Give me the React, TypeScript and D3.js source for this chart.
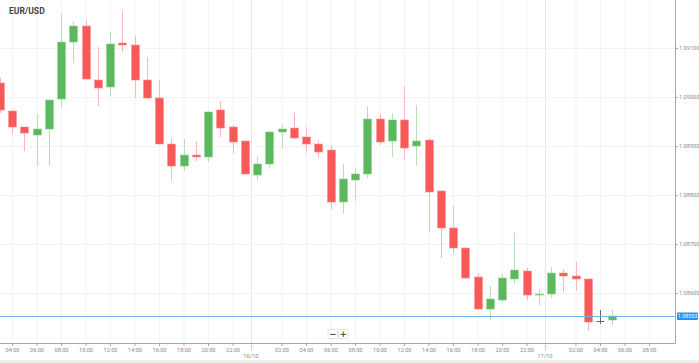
import React, { useRef, useEffect } from 'react';
import * as d3 from 'd3';

// hourly candles, 15/10 03:00 -> 17/10 05:00
const startTime = new Date(2019, 9, 15, 3);
const times = d3.timeHour.range(startTime, new Date(2019, 9, 17, 6));

const open = [
  1.090286, 1.089714, 1.089388, 1.089224, 1.089347, 1.089959, 1.091122, 1.091449, 1.090347, 1.090204,
  1.091102, 1.091061, 1.090347, 1.089980, 1.089041, 1.088592, 1.088816, 1.088776, 1.089735, 1.089388,
  1.089102, 1.088408, 1.088633, 1.089286, 1.089367, 1.089184, 1.089041, 1.088918, 1.087857, 1.088306,
  1.088429, 1.089551, 1.089102, 1.089531, 1.089000, 1.089122, 1.088082, 1.087327, 1.086918, 1.086327,
  1.085673, 1.085857, 1.086286, 1.086449, 1.085959, 1.085980, 1.086408, 1.086347, 1.086286, 1.085429,
  1.085449,
];
const high = [
  1.090388, 1.089735, 1.089388, 1.089653, 1.089939, 1.091694, 1.091531, 1.091571, 1.091020, 1.091327,
  1.091755, 1.091245, 1.090816, 1.090347, 1.089143, 1.089143, 1.089102, 1.089714, 1.089918, 1.089429,
  1.089102, 1.088776, 1.089306, 1.089429, 1.089673, 1.089388, 1.089122, 1.089020, 1.088633, 1.088551,
  1.089816, 1.089653, 1.089673, 1.090224, 1.089837, 1.089163, 1.088102, 1.087776, 1.086918, 1.086408,
  1.086143, 1.086388, 1.087224, 1.086510, 1.086082, 1.086531, 1.086490, 1.086633, 1.086286, 1.085653,
  1.085653,
];
const low = [
  1.089673, 1.089245, 1.088898, 1.088592, 1.088592, 1.089796, 1.090694, 1.090367, 1.089816, 1.090020,
  1.090918, 1.089980, 1.089959, 1.089041, 1.088286, 1.088490, 1.088694, 1.088673, 1.089184, 1.088857,
  1.088429, 1.088306, 1.088531, 1.088939, 1.089143, 1.088857, 1.088755, 1.087714, 1.087612, 1.087878,
  1.088347, 1.089020, 1.088776, 1.088735, 1.088592, 1.087245, 1.086714, 1.086816, 1.086286, 1.085653,
  1.085449, 1.085816, 1.086184, 1.085857, 1.085755, 1.085898, 1.086020, 1.086041, 1.085224, 1.085367,
  1.085347,
];
const close = [
  1.089735, 1.089388, 1.089265, 1.089347, 1.089939, 1.091122, 1.091449, 1.090367, 1.090184, 1.091082,
  1.091061, 1.090347, 1.089980, 1.089041, 1.088592, 1.088816, 1.088776, 1.089694, 1.089367, 1.089082,
  1.088429, 1.088633, 1.089286, 1.089347, 1.089163, 1.089041, 1.088878, 1.087857, 1.088327, 1.088429,
  1.089551, 1.089082, 1.089531, 1.088959, 1.089102, 1.088061, 1.087327, 1.086918, 1.086306, 1.085673,
  1.085878, 1.086306, 1.086469, 1.085959, 1.085980, 1.086408, 1.086347, 1.086286, 1.085408, 1.085429,
  1.085531,
];
// the running candle is drawn neutral
const currentIndex = 49;
const lastPrice = 1.08553;
const priceTicks = [1.086, 1.087, 1.088, 1.089, 1.09, 1.091];
const dayLabels = ['16/10', '17/10'];
const title = 'EUR/USD';

const W = 699;
const H = 363;
const plot = { right: 675, bottom: 343 };

function drawChart(svgEl: SVGSVGElement) {
  const svg = d3.select(svgEl);
  svg.selectAll('*').remove();

  const x = d3
    .scaleTime()
    .domain([new Date(2019, 9, 15, 3, 1, 13), new Date(2019, 9, 17, 10, 7, 20)])
    .range([0, plot.right]);
  const y = d3.scaleLinear().domain([1.08498, 1.09198]).range([plot.bottom, 0]);

  const hourTicks = d3.timeHour
    .every(2)!
    .range(new Date(2019, 9, 15, 4), new Date(2019, 9, 17, 9))
    .filter((d) => d.getHours() !== 0);
  const dayMarks = [new Date(2019, 9, 15, 23, 30), new Date(2019, 9, 16, 23, 30)];
  const fmtHour = d3.timeFormat('%H:%M');

  svg.append('rect').attr('width', W).attr('height', H).attr('fill', '#fff');
  svg.append('rect').attr('y', 360).attr('width', W).attr('height', 3).attr('fill', '#eeeeee');

  // grid
  const grid = svg.append('g');
  grid
    .selectAll('line.v')
    .data(hourTicks)
    .join('line')
    .attr('x1', (d) => x(d) + 0.5)
    .attr('x2', (d) => x(d) + 0.5)
    .attr('y1', 0)
    .attr('y2', plot.bottom)
    .attr('stroke', '#f3f3f3');
  grid
    .selectAll('line.day')
    .data(dayMarks)
    .join('line')
    .attr('x1', (d) => Math.round(x(d)) + 0.5)
    .attr('x2', (d) => Math.round(x(d)) + 0.5)
    .attr('y1', 0)
    .attr('y2', plot.bottom)
    .attr('stroke', '#e6e6e6');
  grid
    .selectAll('line.h')
    .data(priceTicks)
    .join('line')
    .attr('x1', 0)
    .attr('x2', plot.right)
    .attr('y1', (d) => Math.round(y(d)) + 0.5)
    .attr('y2', (d) => Math.round(y(d)) + 0.5)
    .attr('stroke', '#f3f3f3');

  // candles
  const clipId = 'plot-clip';
  svg
    .append('clipPath')
    .attr('id', clipId)
    .append('rect')
    .attr('width', plot.right)
    .attr('height', plot.bottom);

  const idx = d3.range(times.length);
  const bodyW = (x(d3.timeHour.offset(startTime, 1)) - x(startTime)) * 0.64;
  const kind = (i: number) =>
    i === currentIndex ? 'n' : close[i] >= open[i] ? 'up' : 'down';
  const wickColor = { up: '#b8e0b8', down: '#f9b6b6', n: '#666' } as Record<string, string>;
  const bodyColor = { up: '#5cb85c', down: '#f75858', n: '#666' } as Record<string, string>;
  const edgeColor = { up: '#8fd08f', down: '#fa8e8e', n: '#666' } as Record<string, string>;

  const candles = svg.append('g').attr('clip-path', `url(#${clipId})`);
  candles
    .selectAll('line.wick')
    .data(idx)
    .join('line')
    .attr('x1', (i) => Math.round(x(times[i])) + 0.5)
    .attr('x2', (i) => Math.round(x(times[i])) + 0.5)
    .attr('y1', (i) => y(high[i]))
    .attr('y2', (i) => y(low[i]))
    .attr('stroke', (i) => wickColor[kind(i)])
    .attr('stroke-width', 1);
  candles
    .selectAll('rect.body')
    .data(idx)
    .join('rect')
    .attr('x', (i) => Math.round(x(times[i])) + 0.5 - bodyW / 2)
    .attr('width', bodyW)
    .attr('y', (i) => y(Math.max(open[i], close[i])))
    .attr('height', (i) => Math.max(1, Math.abs(y(open[i]) - y(close[i]))))
    .attr('fill', (i) => bodyColor[kind(i)])
    .attr('stroke', (i) => (kind(i) === 'n' ? 'none' : edgeColor[kind(i)]))
    .attr('stroke-width', 0.6);

  // last price line
  svg
    .append('line')
    .attr('x1', 0)
    .attr('x2', plot.right)
    .attr('y1', Math.round(y(lastPrice)) + 0.5)
    .attr('y2', Math.round(y(lastPrice)) + 0.5)
    .attr('stroke', '#6cb6ea')
    .attr('stroke-width', 1);

  // axes frame
  svg
    .append('line')
    .attr('x1', plot.right + 0.5)
    .attr('x2', plot.right + 0.5)
    .attr('y1', 0)
    .attr('y2', plot.bottom + 0.5)
    .attr('stroke', '#a8a8a8');
  svg
    .append('line')
    .attr('x1', 0)
    .attr('x2', plot.right + 0.5)
    .attr('y1', plot.bottom + 0.5)
    .attr('y2', plot.bottom + 0.5)
    .attr('stroke', '#a8a8a8');

  const yAxis = d3
    .axisRight(y)
    .tickValues(priceTicks)
    .tickSize(3)
    .tickFormat((d) => d3.format('.5f')(d as number));
  const gy = svg.append('g').attr('transform', `translate(${plot.right},0)`).call(yAxis);
  gy.select('.domain').remove();
  gy.selectAll('line').attr('stroke', '#aaa');
  gy.selectAll('text')
    .attr('x', 4)
    .attr('fill', '#8a8a8a')
    .attr('font-size', 5.6)
    .attr('font-family', 'Roboto, sans-serif');

  const xAxis = d3
    .axisBottom(x)
    .tickValues(hourTicks)
    .tickSize(3)
    .tickFormat((d) => fmtHour(d as Date));
  const gx = svg.append('g').attr('transform', `translate(0,${plot.bottom})`).call(xAxis);
  gx.select('.domain').remove();
  gx.selectAll('line').attr('stroke', '#aaa');
  gx.selectAll('text')
    .attr('y', 5)
    .attr('fill', '#8a8a8a')
    .attr('font-size', 5.6)
    .attr('font-family', 'Roboto, sans-serif');

  // day separators on the time axis
  const days = svg.append('g');
  days
    .selectAll('line')
    .data(dayMarks)
    .join('line')
    .attr('x1', (d) => Math.round(x(d)) + 0.5)
    .attr('x2', (d) => Math.round(x(d)) + 0.5)
    .attr('y1', plot.bottom)
    .attr('y2', plot.bottom + 7)
    .attr('stroke', '#999')
    .attr('stroke-dasharray', '1,1');
  days
    .selectAll('text')
    .data(dayMarks)
    .join('text')
    .attr('x', (d) => x(d))
    .attr('y', 358)
    .attr('text-anchor', 'middle')
    .attr('fill', '#8a8a8a')
    .attr('font-size', 5.8)
    .attr('font-family', 'Roboto, sans-serif')
    .text((d, i) => dayLabels[i]);

  // price label
  const py = y(lastPrice);
  svg
    .append('rect')
    .attr('x', plot.right + 2)
    .attr('y', py - 3.5)
    .attr('width', 21)
    .attr('height', 7.5)
    .attr('rx', 1)
    .attr('fill', '#2196f3');
  svg
    .append('text')
    .attr('x', plot.right + 12.5)
    .attr('y', py + 2)
    .attr('text-anchor', 'middle')
    .attr('fill', '#fff')
    .attr('font-size', 5.4)
    .attr('font-family', 'Roboto, sans-serif')
    .text(d3.format('.5f')(lastPrice));

  // zoom buttons
  const zb = svg.append('g').attr('transform', `translate(${plot.right / 2 - 10},329)`);
  ['−', '+'].forEach((s, i) => {
    zb.append('rect')
      .attr('x', i * 10.5 + 0.5)
      .attr('y', 0.5)
      .attr('width', 9.5)
      .attr('height', 9)
      .attr('rx', 1)
      .attr('fill', '#fff')
      .attr('stroke', '#e2e2e2');
    zb.append('text')
      .attr('x', i * 10.5 + 5.25)
      .attr('y', 7.6)
      .attr('text-anchor', 'middle')
      .attr('fill', '#555')
      .attr('font-size', 9)
      .attr('font-weight', 'bold')
      .attr('font-family', 'DejaVu Sans, sans-serif')
      .text(s);
  });

  // title
  svg
    .append('text')
    .attr('x', 9)
    .attr('y', 13.5)
    .attr('fill', '#444')
    .attr('font-size', 8.6)
    .attr('font-weight', 'bold')
    .attr('font-family', 'Roboto, sans-serif')
    .text(title);
}

export default function App() {
  const ref = useRef<SVGSVGElement>(null);

  useEffect(() => {
    if (ref.current) drawChart(ref.current);
  }, []);

  return (
    <svg
      ref={ref}
      width={W}
      height={H}
      style={{ position: 'absolute', left: 0, top: 0, display: 'block' }}
    />
  );
}
